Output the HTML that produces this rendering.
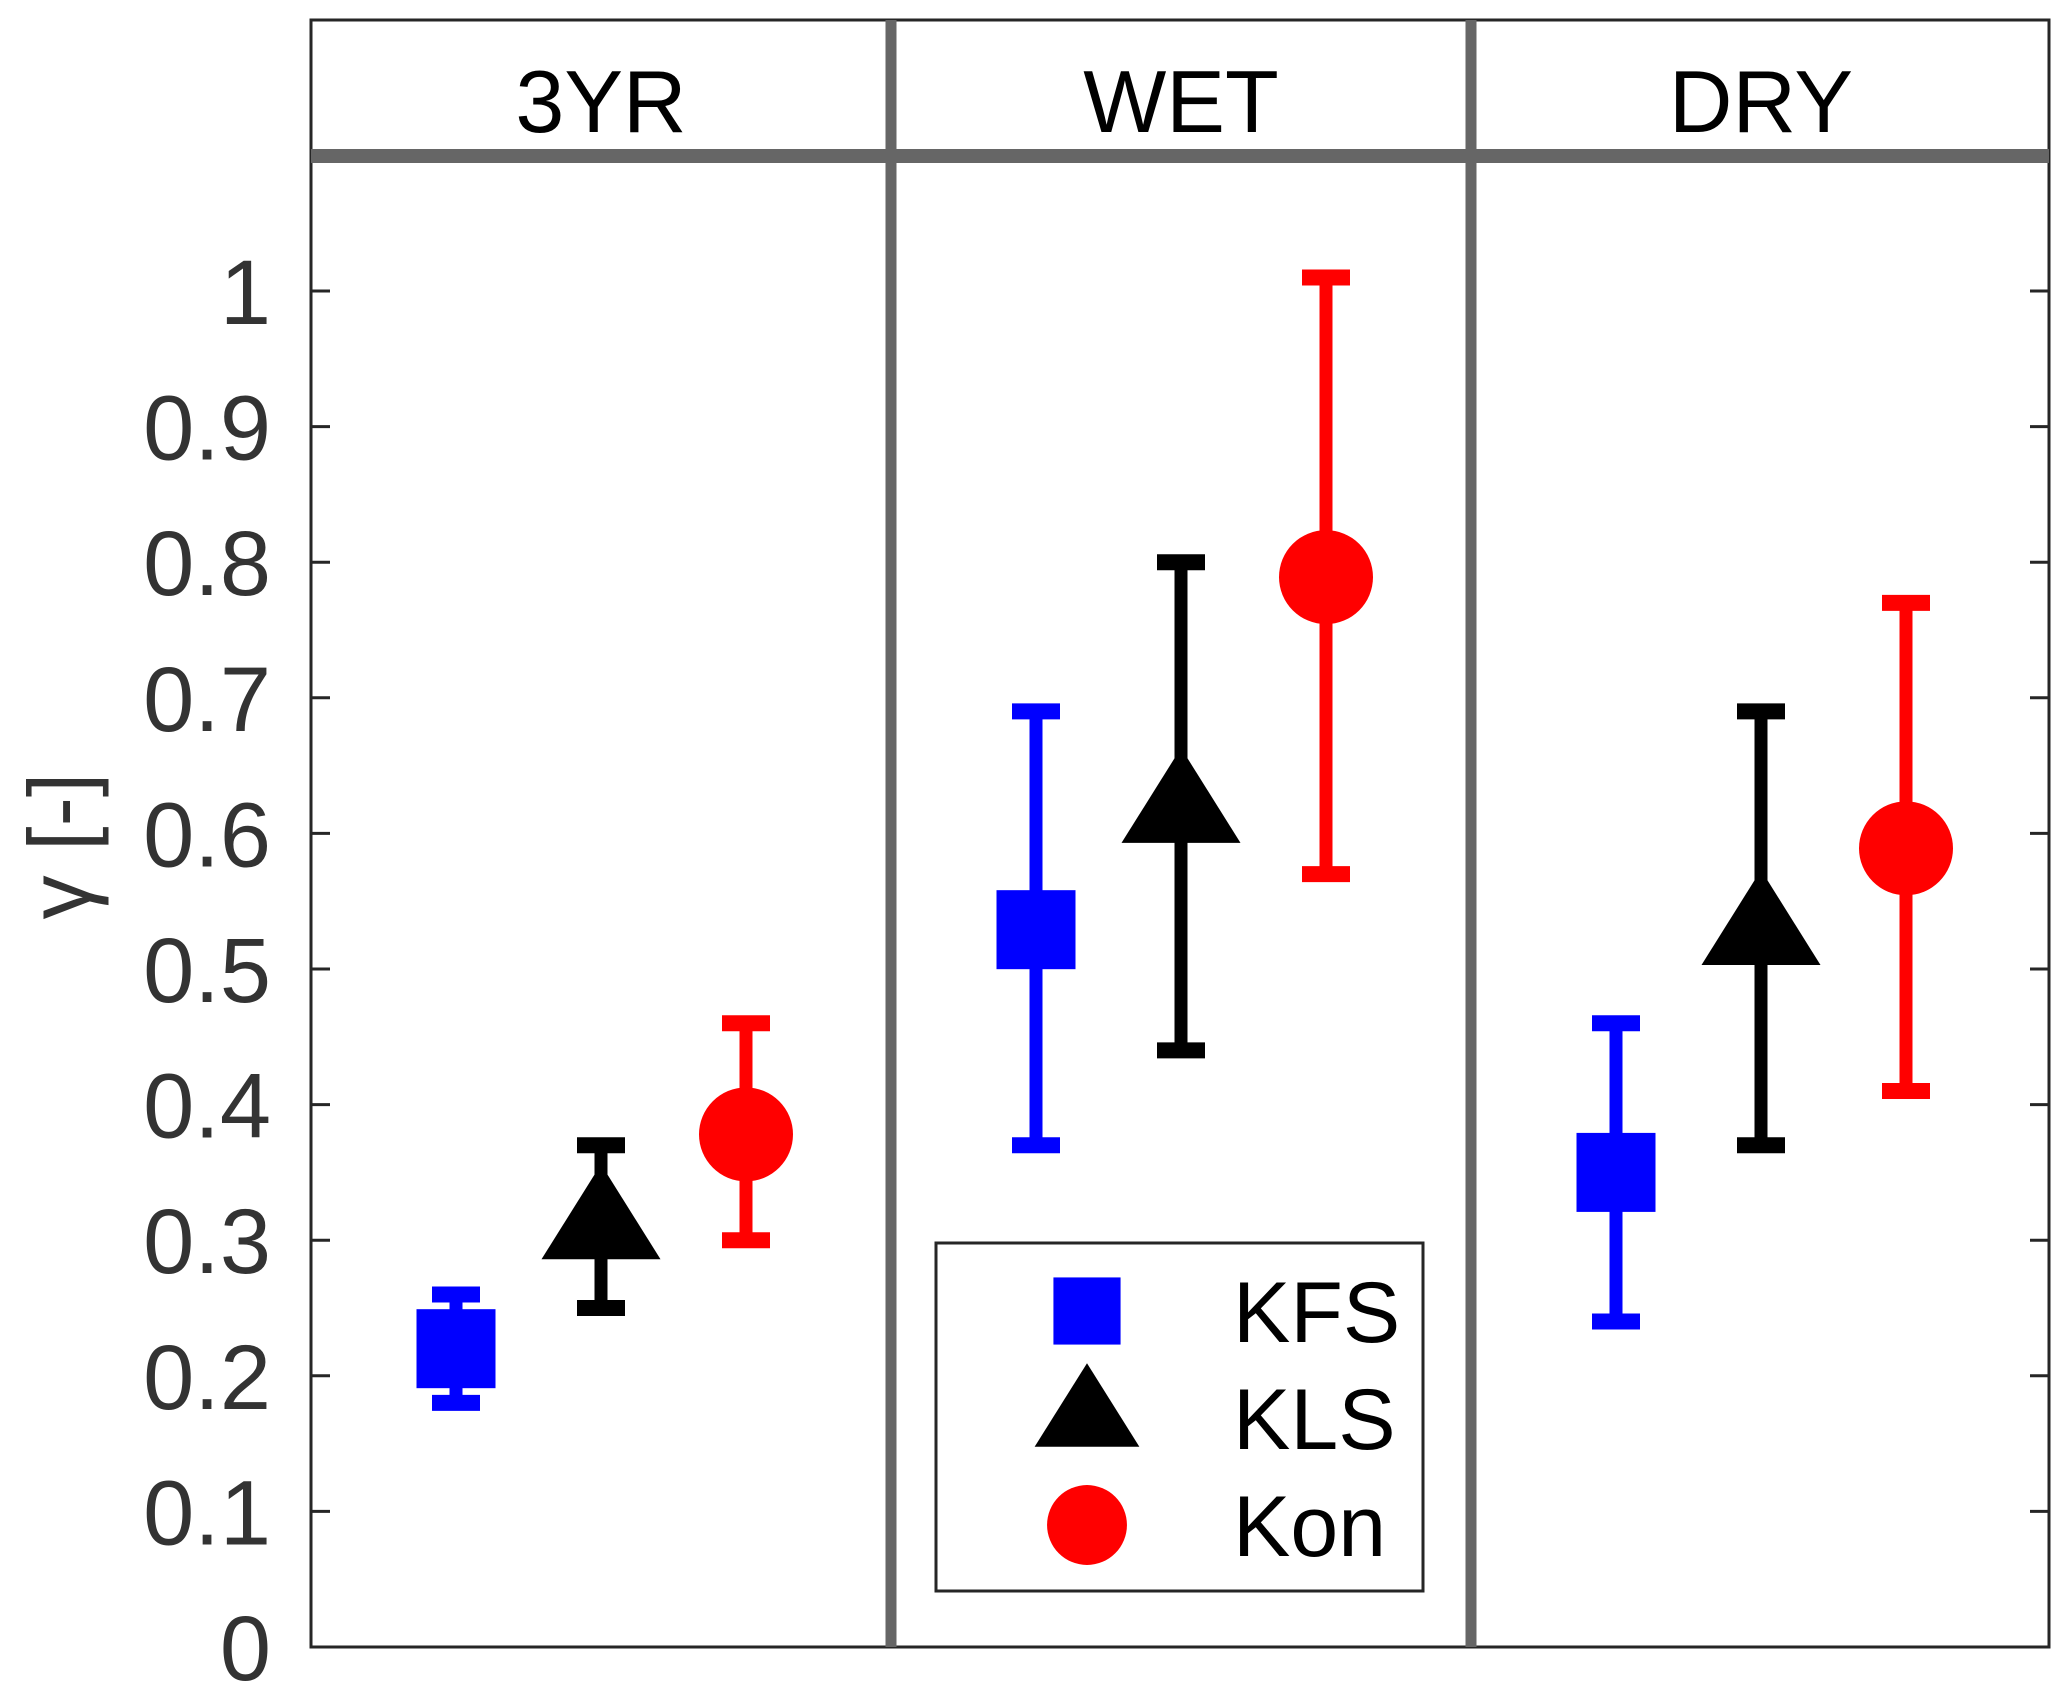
<!DOCTYPE html>
<html><head><meta charset="utf-8"><style>
html,body{margin:0;padding:0;background:#fff;}
svg{display:block;}
text{font-family:"Liberation Sans",sans-serif;}
</style></head><body>
<svg id="chart" width="2067" height="1698" viewBox="0 0 2067 1698">
</svg>
<script>
const panels = ["3YR", "WET", "DRY"];
const seriesNames = ["KFS", "KLS", "Kon"];
const kfsVal = [0.22, 0.529, 0.35];
const kfsLo = [0.18, 0.37, 0.24];
const kfsHi = [0.26, 0.69, 0.46];
const klsVal = [0.321, 0.628, 0.538];
const klsLo = [0.25, 0.44, 0.37];
const klsHi = [0.37, 0.80, 0.69];
const konVal = [0.378, 0.789, 0.589];
const konLo = [0.30, 0.57, 0.41];
const konHi = [0.46, 1.01, 0.77];
const yTicks = [0, 0.1, 0.2, 0.3, 0.4, 0.5, 0.6, 0.7, 0.8, 0.9, 1];
const yTickLabels = ["0", "0.1", "0.2", "0.3", "0.4", "0.5", "0.6", "0.7", "0.8", "0.9", "1"];

const NS = "http://www.w3.org/2000/svg";
const svg = document.getElementById("chart");
const L = 311, R = 2049, T = 20, B = 1647;
const y0px = 1647, y1px = 291;
function yScale(v){ return y0px + (y1px - y0px) * v; }
const panelCenters = [601, 1181, 1761];
const offset = 145;
function xScale(panel, s){ return panelCenters[panel] + (s - 1) * offset; }
function el(tag, attrs, parent){
  const e = document.createElementNS(NS, tag);
  for (const k in attrs) e.setAttribute(k, attrs[k]);
  (parent || svg).appendChild(e);
  return e;
}

let box = el("rect", {x:L, y:T, width:R-L, height:B-T, fill:"none", stroke:"#262626", "stroke-width":3});



yTicks.forEach((v, i) => {
  const y = yScale(v);
  let t1 = el("line", {x1:L, x2:L+19, y1:y, y2:y, stroke:"#262626", "stroke-width":3});
  
  
  let t2 = el("line", {x1:R-19, x2:R, y1:y, y2:y, stroke:"#262626", "stroke-width":3});
  
  
  let lb = el("text", {x:271, y:y+33, "text-anchor":"end", "font-size":92, fill:"#333"});
  lb.textContent = yTickLabels[i];
  
  
});

let yl = el("text", {x:0, y:0, "text-anchor":"middle", "font-size":88, fill:"#333", transform:"translate(90,846) rotate(-90)"});
yl.textContent = "\u03b3 [-]";



let hb = el("line", {x1:L, x2:R, y1:156, y2:156, stroke:"#666", "stroke-width":14});


[891, 1471].forEach(x => {
  let s = el("line", {x1:x, x2:x, y1:T, y2:B, stroke:"#666", "stroke-width":11});
  
  
});
panels.forEach((p, i) => {
  let t = el("text", {x:panelCenters[i], y:132, "text-anchor":"middle", "font-size":88, fill:"#000"});
  t.textContent = p;
  
  
});

const series = [
  {val:kfsVal, lo:kfsLo, hi:kfsHi, color:"#0000ff", shape:"square"},
  {val:klsVal, lo:klsLo, hi:klsHi, color:"#000000", shape:"triangle"},
  {val:konVal, lo:konLo, hi:konHi, color:"#ff0000", shape:"circle"}
];
function marker(shape, cx, cy, color, scale){
  let m;
  if (shape === "square"){
    const s = 79 * scale;
    m = el("rect", {x:cx-s/2, y:cy-s/2, width:s, height:s, fill:color});
  } else if (shape === "triangle"){
    const w = 119 * scale, h = 95 * scale;
    m = el("polygon", {points:`${cx},${cy-h/2} ${cx+w/2},${cy+h/2} ${cx-w/2},${cy+h/2}`, fill:color});
  } else {
    m = el("circle", {cx:cx, cy:cy, r:47*scale, fill:color});
  }
  return m;
}
series.forEach((s, si) => {
  s.val.forEach((v, pi) => {
    const x = xScale(pi, si);
    const g = el("g", {});
    
    
    el("line", {x1:x, x2:x, y1:yScale(s.lo[pi]), y2:yScale(s.hi[pi]), stroke:s.color, "stroke-width":13}, g);
    [s.lo[pi], s.hi[pi]].forEach(c => {
      el("line", {x1:x-24, x2:x+24, y1:yScale(c), y2:yScale(c), stroke:s.color, "stroke-width":16}, g);
    });
    const m = marker(s.shape, x, yScale(v), s.color, 1);
    g.appendChild(m);
  });
});

const lg = el("g", {});


el("rect", {x:936, y:1243, width:487, height:348, fill:"#fff", stroke:"#262626", "stroke-width":3}, lg);
const legYs = [1311, 1418, 1525];
const legMarkYs = [1311, 1405, 1525];
series.forEach((s, si) => {
  const m = marker(s.shape, 1087, legMarkYs[si], s.color, si === 1 ? 0.88 : 0.85);
  lg.appendChild(m);
  const t = el("text", {x:1233, y:legYs[si]+31, "font-size":86, fill:"#000"}, lg);
  t.textContent = seriesNames[si];
  
  
});
</script>
</body></html>
